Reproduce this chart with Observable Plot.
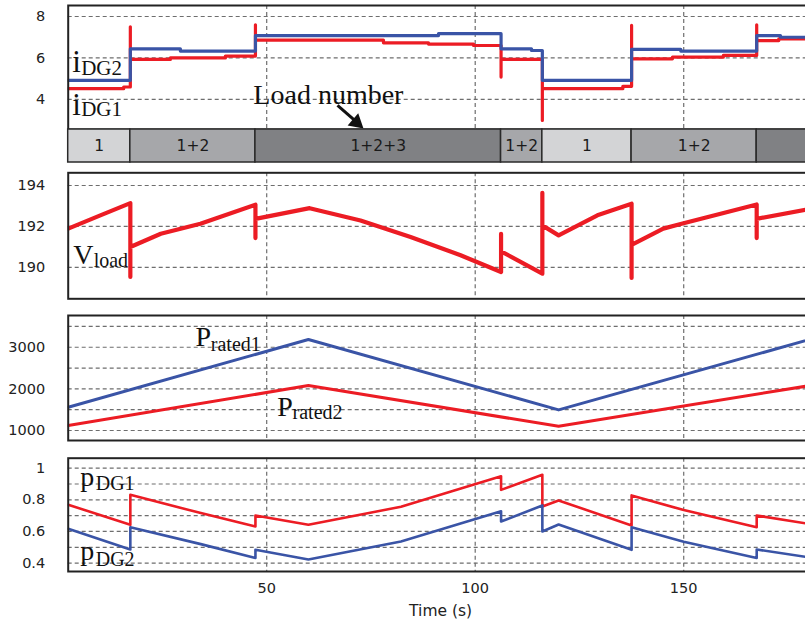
<!DOCTYPE html>
<html><head><meta charset="utf-8">
<script src="https://cdn.jsdelivr.net/npm/d3@7"></script>
<script src="https://cdn.jsdelivr.net/npm/@observablehq/plot@0.6"></script>
<style>
html,body{margin:0;padding:0;background:#fff;}
#wrap{position:relative;width:805px;height:628px;overflow:hidden;background:#fff;}
</style></head><body><div id="wrap"></div>
<script>
// ---------- data ----------
const xTicks = [50, 100, 150];

// load number band
const loadLabels = ["1", "1+2", "1+2+3", "1+2", "1", "1+2", "1+2+3"];
const loadStart  = [2.4, 17.3, 47.3, 106.2, 116.1, 137.5, 167.5];
const loadEnd    = [17.3, 47.3, 106.2, 116.1, 137.5, 167.5, 200];

// panel 1: iDG2 (blue) and iDG1 (red)
const tI2 = [2.4,17.3,17.3,29.3,29.3,47.3,47.3,91.2,91.2,106.2,106.2,113.5,113.5,116.1,116.1,137.5,137.5,149.3,149.3,167.5,167.5,173.2,173.2,182.8];
const vI2 = [4.92,4.92,6.44,6.44,6.33,6.33,7.08,7.08,7.17,7.17,6.44,6.44,6.36,6.36,4.92,4.92,6.41,6.41,6.33,6.33,7.08,7.08,7.0,7.0];
const tI1 = [2.4,15.7,15.7,17.3,17.3,17.3,26.9,26.9,40.1,40.1,47.3,47.3,47.3,78.0,78.0,88.8,88.8,99.6,99.6,106.2,106.2,106.2,116.1,116.1,116.1,135.4,135.4,137.5,137.5,137.5,147.3,147.3,159.5,159.5,167.5,167.5,167.5,172.8,172.8,182.8];
const vI1 = [4.52,4.52,4.6,4.6,7.5,5.93,5.93,6.0,6.0,6.09,6.09,7.6,6.86,6.86,6.73,6.73,6.67,6.67,6.6,6.6,5.08,5.93,5.93,2.99,4.52,4.52,4.63,4.63,7.57,5.96,5.96,6.04,6.04,6.12,6.12,7.6,6.84,6.84,6.92,6.92];

// panel 2: Vload
const tV = [2.4,10.1,17.3,17.3,17.3,24.6,34.1,47.3,47.3,47.3,60.3,72.5,84.5,96.5,106.2,106.2,106.2,116.1,116.1,116.1,120.0,129.3,137.5,137.5,137.5,145.1,149.5,167.5,167.5,167.5,182.8];
const vV = [191.89,192.54,193.14,189.53,190.99,191.64,192.13,193.06,191.43,192.37,192.89,192.29,191.48,190.59,189.77,191.64,190.78,189.69,193.64,192.05,191.56,192.54,193.11,189.48,191.1,191.89,192.13,193.07,191.43,192.37,192.95];

// panel 3: rated powers
const tP1 = [2.4, 60, 120, 182.8];
const vP1 = [1558, 3185, 1495, 3259];
const tP2 = [2.4, 60, 120, 182.8];
const vP2 = [1118, 2079, 1101, 2120];

// panel 4: pDG1 (red), pDG2 (blue)
const tp1 = [2.4,17.3,17.3,34.2,47.3,47.3,60,82.2,106.2,106.2,116.1,116.1,120,137.5,137.5,150,167.5,167.5,182.8];
const vp1 = [0.769,0.642,0.832,0.716,0.632,0.701,0.642,0.756,0.949,0.863,0.958,0.758,0.796,0.638,0.828,0.735,0.627,0.701,0.636];
const tp2 = [2.4,17.3,17.3,34.2,47.3,47.3,60,82.2,106.2,106.2,116.1,116.1,120,137.5,137.5,150,167.5,167.5,182.8];
const vp2 = [0.617,0.486,0.627,0.52,0.432,0.484,0.423,0.537,0.728,0.663,0.764,0.600,0.644,0.484,0.627,0.535,0.432,0.486,0.426];

// annotation anchors (data coordinates)
const arrowFrom = [67.7, 3.57];
const arrowTo = [73.2, 2.6];
const timeLabelX = 91.7;

// ---------- drawing ----------
const BLUE = "#3a54a6", RED = "#ec1c24";
const SANS = "DejaVu Sans", SERIF = "Liberation Serif";
const X_DOMAIN = [2.4, 182.8];
const wrap = document.getElementById("wrap");
const zip = (t, v) => t.map((d, i) => ({t: d, v: v[i]}));

function panel({top, height, mt, mb, yDomain, yTicks, yGrid, marks, tickFormat = d => String(d)}) {
  const svg = Plot.plot({
    width: 830, height, marginLeft: 67.7, marginRight: 10, marginTop: mt, marginBottom: mb,
    x: {domain: X_DOMAIN, axis: null},
    y: {domain: yDomain, axis: null},
    style: {background: "transparent", maxWidth: "none", fontFamily: SANS, fontSize: "14.5px", color: "#222",
            position: "absolute", top: top + "px", left: "0px", overflow: "visible"},
    marks: [
      Plot.ruleY(yGrid, {stroke: "#6e6e6e", strokeDasharray: "4,3", strokeWidth: 1.2}),
      Plot.ruleX(xTicks, {stroke: "#6e6e6e", strokeDasharray: "4,3", strokeWidth: 1.2}),
      ...marks,
      Plot.axisY(yTicks, {tickSize: 0, tickPadding: 23, tickFormat, label: null, fontSize: 14.5, fill: "#222"}),
      Plot.frame({stroke: "#222", strokeWidth: 2})
    ]
  });
  wrap.append(svg);
}

const lbl = (text, x, y, size) => Plot.text([text], {x: () => x, y: () => y, text: d => d, textAnchor: "start",
  lineAnchor: "bottom", fontFamily: SERIF, fontSize: size, fill: "#111"});

// panel 1
panel({top: 0, height: 131, mt: 5, mb: 2, yDomain: [2.55, 8.53], yTicks: [4, 6, 8], yGrid: [4, 6, 8],
  marks: [
    Plot.line(zip(tI1, vI1), {x: "t", y: "v", stroke: RED, strokeWidth: 3.2, clip: true}),
    Plot.line(zip(tI2, vI2), {x: "t", y: "v", stroke: BLUE, strokeWidth: 3.2, clip: true}),
    lbl("i", 3.4, 5.30, 31), lbl("DG2", 5.5, 5.20, 21),
    lbl("i", 3.4, 3.25, 31), lbl("DG1", 5.5, 3.18, 21),
    lbl("Load number", 46.8, 3.76, 28),
    Plot.link([0], {x1: () => arrowFrom[0], y1: () => arrowFrom[1], x2: () => arrowTo[0], y2: () => arrowTo[1],
      stroke: "#111", strokeWidth: 3, dx: -3, dy: -3}),
    Plot.dot([0], {x: () => arrowTo[0], y: () => arrowTo[1], symbol: "triangle", r: 6, rotate: 131,
      fill: "#111", stroke: "none", dx: -7, dy: -6})
  ]});

// load band
{
  const idx = d3.range(loadLabels.length);
  const mid = i => (loadStart[i] + loadEnd[i]) / 2;
  const shades = ["#d3d4d6", "#a6a7aa", "#808184"];
  const svg = Plot.plot({
    width: 830, height: 37, marginLeft: 67.7, marginRight: 10, marginTop: 2, marginBottom: 2,
    x: {domain: X_DOMAIN, axis: null},
    y: {domain: [0, 1], axis: null},
    style: {background: "transparent", maxWidth: "none", fontFamily: SANS, fontSize: "15.5px",
            position: "absolute", top: "127px", left: "0px"},
    marks: [
      Plot.rect(idx, {x1: i => loadStart[i], x2: i => loadEnd[i], y1: () => 0, y2: () => 1,
        fill: i => shades[loadLabels[i].split("+").length - 1], stroke: "#2a2a2a", strokeWidth: 1.5}),
      Plot.text(idx.filter(i => mid(i) < X_DOMAIN[1]), {x: mid, y: () => 0.5, text: i => loadLabels[i],
        fill: "#1a1a1a", fontSize: 15.5})
    ]
  });
  wrap.append(svg);
}

// panel 2
panel({top: 167, height: 133.3, mt: 5.3, mb: 2, yDomain: [188.46, 194.62], yTicks: [190, 192, 194], yGrid: [190, 192, 194],
  marks: [
    Plot.line(zip(tV, vV), {x: "t", y: "v", stroke: RED, strokeWidth: 4.2, clip: true}),
    lbl("V", 3.6, 190.18, 28), lbl("load", 8.5, 190.01, 20)
  ]});

// panel 3
panel({top: 310, height: 132, mt: 5, mb: 2, yDomain: [760, 3762], yTicks: [1000, 2000, 3000],
  yGrid: [1000, 1500, 2000, 2500, 3000, 3500],
  marks: [
    Plot.line(zip(tP1, vP1), {x: "t", y: "v", stroke: BLUE, strokeWidth: 3, clip: true}),
    Plot.line(zip(tP2, vP2), {x: "t", y: "v", stroke: RED, strokeWidth: 3, clip: true}),
    lbl("P", 32.9, 3024, 28), lbl("rated1", 36.6, 2921, 20),
    lbl("P", 52.5, 1358, 28), lbl("rated2", 56.2, 1286, 20)
  ]});

// panel 4
panel({top: 452, height: 176, mt: 5.7, mb: 57, yDomain: [0.347, 1.063], yTicks: [0.4, 0.6, 0.8, 1],
  yGrid: [0.4, 0.5, 0.6, 0.7, 0.8, 0.9, 1.0],
  marks: [
    Plot.line(zip(tp1, vp1), {x: "t", y: "v", stroke: RED, strokeWidth: 2.6, clip: true}),
    Plot.line(zip(tp2, vp2), {x: "t", y: "v", stroke: BLUE, strokeWidth: 2.6, clip: true}),
    lbl("p", 5.3, 0.888, 28), lbl("DG1", 9.0, 0.859, 20),
    lbl("p", 5.3, 0.417, 28), lbl("DG2", 9.0, 0.381, 20),
    Plot.text(xTicks, {x: d => d, frameAnchor: "bottom", dy: 21, text: d => String(d), fontSize: 14.5, fill: "#222"}),
    Plot.text(["Time (s)"], {x: () => timeLabelX, frameAnchor: "bottom", dy: 44, text: d => d, fontSize: 15.5, fill: "#222"})
  ]});
</script>
</body></html>
